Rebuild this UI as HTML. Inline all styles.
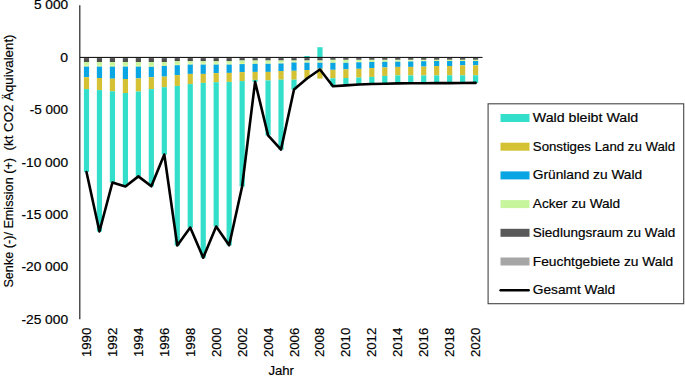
<!DOCTYPE html>
<html><head><meta charset="utf-8"><style>
html,body{margin:0;padding:0;background:#fff;}
svg{display:block;}
text{font-family:"Liberation Sans", sans-serif;font-size:12.6px;fill:#000;stroke:#000;stroke-width:0.18px;}
</style></head><body>
<svg width="685" height="376" viewBox="0 0 685 376">
<rect width="685" height="376" fill="#fff"/>
<rect x="83.89" y="58.1" width="5.2" height="3.9" fill="#4E4E4E"/>
<rect x="83.89" y="62" width="5.2" height="3.6" fill="#C6F59C"/>
<rect x="83.89" y="65.6" width="5.2" height="1" fill="#E0F58C"/>
<rect x="83.89" y="66.6" width="5.2" height="10.6" fill="#0AA6E4"/>
<rect x="83.89" y="77.2" width="5.2" height="11.9" fill="#D4C234"/>
<rect x="83.89" y="89.1" width="5.2" height="82.9" fill="#33DFCA"/>
<rect x="96.86" y="58.1" width="5.2" height="3.9" fill="#4E4E4E"/>
<rect x="96.86" y="62" width="5.2" height="3.6" fill="#C6F59C"/>
<rect x="96.86" y="65.6" width="5.2" height="1" fill="#E0F58C"/>
<rect x="96.86" y="66.6" width="5.2" height="11.4" fill="#0AA6E4"/>
<rect x="96.86" y="78" width="5.2" height="12.1" fill="#D4C234"/>
<rect x="96.86" y="90.1" width="5.2" height="141.4" fill="#33DFCA"/>
<rect x="109.83" y="58.1" width="5.2" height="3.9" fill="#4E4E4E"/>
<rect x="109.83" y="62" width="5.2" height="3.6" fill="#C6F59C"/>
<rect x="109.83" y="65.6" width="5.2" height="1" fill="#E0F58C"/>
<rect x="109.83" y="66.6" width="5.2" height="12.1" fill="#0AA6E4"/>
<rect x="109.83" y="78.7" width="5.2" height="12.6" fill="#D4C234"/>
<rect x="109.83" y="91.3" width="5.2" height="91.2" fill="#33DFCA"/>
<rect x="122.8" y="58.1" width="5.2" height="3.9" fill="#4E4E4E"/>
<rect x="122.8" y="62" width="5.2" height="3.6" fill="#C6F59C"/>
<rect x="122.8" y="65.6" width="5.2" height="1" fill="#E0F58C"/>
<rect x="122.8" y="66.6" width="5.2" height="12.4" fill="#0AA6E4"/>
<rect x="122.8" y="79" width="5.2" height="14" fill="#D4C234"/>
<rect x="122.8" y="93" width="5.2" height="93.5" fill="#33DFCA"/>
<rect x="135.77" y="58.1" width="5.2" height="3.9" fill="#4E4E4E"/>
<rect x="135.77" y="62" width="5.2" height="3.6" fill="#C6F59C"/>
<rect x="135.77" y="65.6" width="5.2" height="1" fill="#E0F58C"/>
<rect x="135.77" y="66.6" width="5.2" height="11.8" fill="#0AA6E4"/>
<rect x="135.77" y="78.4" width="5.2" height="13.1" fill="#D4C234"/>
<rect x="135.77" y="91.5" width="5.2" height="84.9" fill="#33DFCA"/>
<rect x="148.74" y="58.1" width="5.2" height="3.9" fill="#4E4E4E"/>
<rect x="148.74" y="62" width="5.2" height="3.8" fill="#C6F59C"/>
<rect x="148.74" y="65.8" width="5.2" height="1" fill="#E0F58C"/>
<rect x="148.74" y="66.8" width="5.2" height="10.4" fill="#0AA6E4"/>
<rect x="148.74" y="77.2" width="5.2" height="11.9" fill="#D4C234"/>
<rect x="148.74" y="89.1" width="5.2" height="97.2" fill="#33DFCA"/>
<rect x="161.71" y="58.1" width="5.2" height="3.9" fill="#4E4E4E"/>
<rect x="161.71" y="62" width="5.2" height="2.9" fill="#C6F59C"/>
<rect x="161.71" y="64.9" width="5.2" height="1" fill="#E0F58C"/>
<rect x="161.71" y="65.9" width="5.2" height="10.7" fill="#0AA6E4"/>
<rect x="161.71" y="76.6" width="5.2" height="10.6" fill="#D4C234"/>
<rect x="161.71" y="87.2" width="5.2" height="67.3" fill="#33DFCA"/>
<rect x="174.68" y="58.1" width="5.2" height="3.1" fill="#4E4E4E"/>
<rect x="174.68" y="61.2" width="5.2" height="3" fill="#C6F59C"/>
<rect x="174.68" y="64.2" width="5.2" height="1" fill="#E0F58C"/>
<rect x="174.68" y="65.2" width="5.2" height="9.9" fill="#0AA6E4"/>
<rect x="174.68" y="75.1" width="5.2" height="10.8" fill="#D4C234"/>
<rect x="174.68" y="85.9" width="5.2" height="159.6" fill="#33DFCA"/>
<rect x="187.65" y="58.1" width="5.2" height="3.1" fill="#4E4E4E"/>
<rect x="187.65" y="61.2" width="5.2" height="2.4" fill="#C6F59C"/>
<rect x="187.65" y="63.6" width="5.2" height="1" fill="#E0F58C"/>
<rect x="187.65" y="64.6" width="5.2" height="9.3" fill="#0AA6E4"/>
<rect x="187.65" y="73.9" width="5.2" height="10.2" fill="#D4C234"/>
<rect x="187.65" y="84.1" width="5.2" height="143.5" fill="#33DFCA"/>
<rect x="200.62" y="58.1" width="5.2" height="3.1" fill="#4E4E4E"/>
<rect x="200.62" y="61.2" width="5.2" height="2.4" fill="#C6F59C"/>
<rect x="200.62" y="63.6" width="5.2" height="1" fill="#E0F58C"/>
<rect x="200.62" y="64.6" width="5.2" height="9.3" fill="#0AA6E4"/>
<rect x="200.62" y="73.9" width="5.2" height="9" fill="#D4C234"/>
<rect x="200.62" y="82.9" width="5.2" height="174.8" fill="#33DFCA"/>
<rect x="213.59" y="58.1" width="5.2" height="3.1" fill="#4E4E4E"/>
<rect x="213.59" y="61.2" width="5.2" height="2.4" fill="#C6F59C"/>
<rect x="213.59" y="63.6" width="5.2" height="1" fill="#E0F58C"/>
<rect x="213.59" y="64.6" width="5.2" height="8.5" fill="#0AA6E4"/>
<rect x="213.59" y="73.1" width="5.2" height="9.1" fill="#D4C234"/>
<rect x="213.59" y="82.2" width="5.2" height="144.3" fill="#33DFCA"/>
<rect x="226.56" y="58.1" width="5.2" height="3.1" fill="#4E4E4E"/>
<rect x="226.56" y="61.2" width="5.2" height="2.4" fill="#C6F59C"/>
<rect x="226.56" y="63.6" width="5.2" height="1" fill="#E0F58C"/>
<rect x="226.56" y="64.6" width="5.2" height="8.3" fill="#0AA6E4"/>
<rect x="226.56" y="72.9" width="5.2" height="9" fill="#D4C234"/>
<rect x="226.56" y="81.9" width="5.2" height="163.4" fill="#33DFCA"/>
<rect x="239.53" y="58.1" width="5.2" height="2.4" fill="#4E4E4E"/>
<rect x="239.53" y="60.5" width="5.2" height="2.6" fill="#C6F59C"/>
<rect x="239.53" y="63.1" width="5.2" height="1" fill="#E0F58C"/>
<rect x="239.53" y="64.1" width="5.2" height="8" fill="#0AA6E4"/>
<rect x="239.53" y="72.1" width="5.2" height="9" fill="#D4C234"/>
<rect x="239.53" y="81.1" width="5.2" height="105.4" fill="#33DFCA"/>
<rect x="252.5" y="58.1" width="5.2" height="2.4" fill="#4E4E4E"/>
<rect x="252.5" y="60.5" width="5.2" height="2.3" fill="#C6F59C"/>
<rect x="252.5" y="62.8" width="5.2" height="1" fill="#E0F58C"/>
<rect x="252.5" y="63.8" width="5.2" height="8.1" fill="#0AA6E4"/>
<rect x="252.5" y="71.9" width="5.2" height="8" fill="#D4C234"/>
<rect x="252.5" y="79.9" width="5.2" height="1.9" fill="#33DFCA"/>
<rect x="265.46" y="58.1" width="5.2" height="2.4" fill="#4E4E4E"/>
<rect x="265.46" y="60.5" width="5.2" height="2.3" fill="#C6F59C"/>
<rect x="265.46" y="62.8" width="5.2" height="1" fill="#E0F58C"/>
<rect x="265.46" y="63.8" width="5.2" height="8.1" fill="#0AA6E4"/>
<rect x="265.46" y="71.9" width="5.2" height="8.5" fill="#D4C234"/>
<rect x="265.46" y="80.4" width="5.2" height="55" fill="#33DFCA"/>
<rect x="278.43" y="58.1" width="5.2" height="2.4" fill="#4E4E4E"/>
<rect x="278.43" y="60.5" width="5.2" height="2" fill="#C6F59C"/>
<rect x="278.43" y="62.5" width="5.2" height="1" fill="#E0F58C"/>
<rect x="278.43" y="63.5" width="5.2" height="7.5" fill="#0AA6E4"/>
<rect x="278.43" y="71" width="5.2" height="8.7" fill="#D4C234"/>
<rect x="278.43" y="79.7" width="5.2" height="69.9" fill="#33DFCA"/>
<rect x="291.4" y="58.1" width="5.2" height="2.4" fill="#4E4E4E"/>
<rect x="291.4" y="60.5" width="5.2" height="1" fill="#C6F59C"/>
<rect x="291.4" y="61.5" width="5.2" height="1" fill="#E0F58C"/>
<rect x="291.4" y="62.5" width="5.2" height="8.3" fill="#0AA6E4"/>
<rect x="291.4" y="70.8" width="5.2" height="8.9" fill="#D4C234"/>
<rect x="291.4" y="79.7" width="5.2" height="9.8" fill="#33DFCA"/>
<rect x="304.38" y="58.1" width="5.2" height="2.4" fill="#4E4E4E"/>
<rect x="304.38" y="60.5" width="5.2" height="1.2" fill="#C6F59C"/>
<rect x="304.38" y="61.7" width="5.2" height="1" fill="#E0F58C"/>
<rect x="304.38" y="62.7" width="5.2" height="7.3" fill="#0AA6E4"/>
<rect x="304.38" y="70" width="5.2" height="8.2" fill="#D4C234"/>
<rect x="304.38" y="78.2" width="5.2" height="0.3" fill="#33DFCA"/>
<rect x="304.38" y="56" width="5.2" height="1.4" fill="#33DFCA"/>
<rect x="317.35" y="58.1" width="5.2" height="2.4" fill="#4E4E4E"/>
<rect x="317.35" y="60.5" width="5.2" height="1.2" fill="#C6F59C"/>
<rect x="317.35" y="61.7" width="5.2" height="1" fill="#E0F58C"/>
<rect x="317.35" y="62.7" width="5.2" height="6" fill="#0AA6E4"/>
<rect x="317.35" y="68.7" width="5.2" height="9.9" fill="#D4C234"/>
<rect x="317.35" y="47.2" width="5.2" height="10.2" fill="#33DFCA"/>
<rect x="330.31" y="58.1" width="5.2" height="1.7" fill="#4E4E4E"/>
<rect x="330.31" y="59.8" width="5.2" height="2" fill="#C6F59C"/>
<rect x="330.31" y="61.8" width="5.2" height="1" fill="#E0F58C"/>
<rect x="330.31" y="62.8" width="5.2" height="7" fill="#0AA6E4"/>
<rect x="330.31" y="69.8" width="5.2" height="8.5" fill="#D4C234"/>
<rect x="330.31" y="78.3" width="5.2" height="8" fill="#33DFCA"/>
<rect x="343.28" y="58.1" width="5.2" height="1.7" fill="#4E4E4E"/>
<rect x="343.28" y="59.8" width="5.2" height="2" fill="#C6F59C"/>
<rect x="343.28" y="61.8" width="5.2" height="1" fill="#E0F58C"/>
<rect x="343.28" y="62.8" width="5.2" height="6.5" fill="#0AA6E4"/>
<rect x="343.28" y="69.3" width="5.2" height="8.7" fill="#D4C234"/>
<rect x="343.28" y="78" width="5.2" height="7.4" fill="#33DFCA"/>
<rect x="356.25" y="58.1" width="5.2" height="1.7" fill="#4E4E4E"/>
<rect x="356.25" y="59.8" width="5.2" height="1.5" fill="#C6F59C"/>
<rect x="356.25" y="61.3" width="5.2" height="1" fill="#E0F58C"/>
<rect x="356.25" y="62.3" width="5.2" height="6.5" fill="#0AA6E4"/>
<rect x="356.25" y="68.8" width="5.2" height="8.8" fill="#D4C234"/>
<rect x="356.25" y="77.6" width="5.2" height="6.9" fill="#33DFCA"/>
<rect x="369.22" y="58.1" width="5.2" height="1.7" fill="#4E4E4E"/>
<rect x="369.22" y="59.8" width="5.2" height="1.1" fill="#C6F59C"/>
<rect x="369.22" y="60.9" width="5.2" height="1" fill="#E0F58C"/>
<rect x="369.22" y="61.9" width="5.2" height="6.2" fill="#0AA6E4"/>
<rect x="369.22" y="68.1" width="5.2" height="8.8" fill="#D4C234"/>
<rect x="369.22" y="76.9" width="5.2" height="7.1" fill="#33DFCA"/>
<rect x="382.19" y="58.1" width="5.2" height="1.7" fill="#4E4E4E"/>
<rect x="382.19" y="59.8" width="5.2" height="1" fill="#C6F59C"/>
<rect x="382.19" y="60.8" width="5.2" height="1" fill="#E0F58C"/>
<rect x="382.19" y="61.8" width="5.2" height="5.6" fill="#0AA6E4"/>
<rect x="382.19" y="67.4" width="5.2" height="8.5" fill="#D4C234"/>
<rect x="382.19" y="75.9" width="5.2" height="7.8" fill="#33DFCA"/>
<rect x="395.17" y="58.1" width="5.2" height="1.7" fill="#4E4E4E"/>
<rect x="395.17" y="59.8" width="5.2" height="0.9" fill="#C6F59C"/>
<rect x="395.17" y="60.7" width="5.2" height="1" fill="#E0F58C"/>
<rect x="395.17" y="61.7" width="5.2" height="5.2" fill="#0AA6E4"/>
<rect x="395.17" y="66.9" width="5.2" height="8.5" fill="#D4C234"/>
<rect x="395.17" y="75.4" width="5.2" height="8" fill="#33DFCA"/>
<rect x="408.13" y="58.1" width="5.2" height="1.7" fill="#4E4E4E"/>
<rect x="408.13" y="59.8" width="5.2" height="0.7" fill="#C6F59C"/>
<rect x="408.13" y="60.5" width="5.2" height="1" fill="#E0F58C"/>
<rect x="408.13" y="61.5" width="5.2" height="5.4" fill="#0AA6E4"/>
<rect x="408.13" y="66.9" width="5.2" height="8.5" fill="#D4C234"/>
<rect x="408.13" y="75.4" width="5.2" height="7.9" fill="#33DFCA"/>
<rect x="421.11" y="58.1" width="5.2" height="1.7" fill="#4E4E4E"/>
<rect x="421.11" y="59.8" width="5.2" height="0.4" fill="#C6F59C"/>
<rect x="421.11" y="60.2" width="5.2" height="1" fill="#E0F58C"/>
<rect x="421.11" y="61.2" width="5.2" height="5.4" fill="#0AA6E4"/>
<rect x="421.11" y="66.6" width="5.2" height="8.9" fill="#D4C234"/>
<rect x="421.11" y="75.5" width="5.2" height="7.7" fill="#33DFCA"/>
<rect x="434.07" y="58.1" width="5.2" height="1.7" fill="#4E4E4E"/>
<rect x="434.07" y="59.8" width="5.2" height="0.2" fill="#C6F59C"/>
<rect x="434.07" y="60" width="5.2" height="1" fill="#E0F58C"/>
<rect x="434.07" y="61" width="5.2" height="5" fill="#0AA6E4"/>
<rect x="434.07" y="66" width="5.2" height="9.4" fill="#D4C234"/>
<rect x="434.07" y="75.4" width="5.2" height="7.7" fill="#33DFCA"/>
<rect x="447.05" y="58.1" width="5.2" height="1.7" fill="#4E4E4E"/>
<rect x="447.05" y="59.8" width="5.2" height="0.2" fill="#C6F59C"/>
<rect x="447.05" y="60" width="5.2" height="1" fill="#E0F58C"/>
<rect x="447.05" y="61" width="5.2" height="5" fill="#0AA6E4"/>
<rect x="447.05" y="66" width="5.2" height="9.3" fill="#D4C234"/>
<rect x="447.05" y="75.3" width="5.2" height="7.8" fill="#33DFCA"/>
<rect x="460.01" y="58.1" width="5.2" height="1.7" fill="#4E4E4E"/>
<rect x="460.01" y="59.8" width="5.2" height="0.2" fill="#C6F59C"/>
<rect x="460.01" y="60" width="5.2" height="1" fill="#E0F58C"/>
<rect x="460.01" y="61" width="5.2" height="4.3" fill="#0AA6E4"/>
<rect x="460.01" y="65.3" width="5.2" height="10" fill="#D4C234"/>
<rect x="460.01" y="75.3" width="5.2" height="7.7" fill="#33DFCA"/>
<rect x="472.99" y="58.1" width="5.2" height="1.7" fill="#4E4E4E"/>
<rect x="472.99" y="59.8" width="5.2" height="0.2" fill="#C6F59C"/>
<rect x="472.99" y="60" width="5.2" height="1" fill="#E0F58C"/>
<rect x="472.99" y="61" width="5.2" height="4.3" fill="#0AA6E4"/>
<rect x="472.99" y="65.3" width="5.2" height="10" fill="#D4C234"/>
<rect x="472.99" y="75.3" width="5.2" height="7.6" fill="#33DFCA"/>
<line x1="79.75" y1="5.3" x2="79.75" y2="319.3" stroke="#4F4F4F" stroke-width="1.5"/>
<line x1="80" y1="57.4" x2="482.5" y2="57.4" stroke="#000" stroke-width="1.0"/>
<polyline points="86.48,172 99.45,231.5 112.43,182.5 125.4,186.5 138.37,176.4 151.34,186.3 164.31,154.5 177.28,245.5 190.25,227.6 203.22,257.7 216.19,226.5 229.16,245.3 242.12,186.5 255.09,81.8 268.06,135.4 281.03,149.6 294,89.5 306.98,78.5 319.95,69.5 332.92,86.3 345.88,85.4 358.86,84.5 371.82,84 384.8,83.7 397.77,83.4 410.74,83.3 423.71,83.2 436.68,83.1 449.65,83.1 462.62,83 475.59,82.9" fill="none" stroke="#000" stroke-width="2.6" stroke-linejoin="round" stroke-linecap="round"/>
<text x="68.1" y="9.3" text-anchor="end" textLength="34.2" lengthAdjust="spacingAndGlyphs">5 000</text>
<text x="68.1" y="62.05" text-anchor="end" textLength="7.8" lengthAdjust="spacingAndGlyphs">0</text>
<text x="68.1" y="114.38" text-anchor="end" textLength="38.3" lengthAdjust="spacingAndGlyphs">-5 000</text>
<text x="68.1" y="166.71" text-anchor="end" textLength="46.7" lengthAdjust="spacingAndGlyphs">-10 000</text>
<text x="68.1" y="219.04" text-anchor="end" textLength="46.7" lengthAdjust="spacingAndGlyphs">-15 000</text>
<text x="68.1" y="271.37" text-anchor="end" textLength="46.7" lengthAdjust="spacingAndGlyphs">-20 000</text>
<text x="68.1" y="323.7" text-anchor="end" textLength="46.7" lengthAdjust="spacingAndGlyphs">-25 000</text>
<text transform="translate(90.98,357.1) rotate(-90)" textLength="29.4" lengthAdjust="spacingAndGlyphs">1990</text>
<text transform="translate(116.93,357.1) rotate(-90)" textLength="29.4" lengthAdjust="spacingAndGlyphs">1992</text>
<text transform="translate(142.87,357.1) rotate(-90)" textLength="29.4" lengthAdjust="spacingAndGlyphs">1994</text>
<text transform="translate(168.81,357.1) rotate(-90)" textLength="29.4" lengthAdjust="spacingAndGlyphs">1996</text>
<text transform="translate(194.75,357.1) rotate(-90)" textLength="29.4" lengthAdjust="spacingAndGlyphs">1998</text>
<text transform="translate(220.69,357.1) rotate(-90)" textLength="29.4" lengthAdjust="spacingAndGlyphs">2000</text>
<text transform="translate(246.62,357.1) rotate(-90)" textLength="29.4" lengthAdjust="spacingAndGlyphs">2002</text>
<text transform="translate(272.56,357.1) rotate(-90)" textLength="29.4" lengthAdjust="spacingAndGlyphs">2004</text>
<text transform="translate(298.5,357.1) rotate(-90)" textLength="29.4" lengthAdjust="spacingAndGlyphs">2006</text>
<text transform="translate(324.45,357.1) rotate(-90)" textLength="29.4" lengthAdjust="spacingAndGlyphs">2008</text>
<text transform="translate(350.38,357.1) rotate(-90)" textLength="29.4" lengthAdjust="spacingAndGlyphs">2010</text>
<text transform="translate(376.32,357.1) rotate(-90)" textLength="29.4" lengthAdjust="spacingAndGlyphs">2012</text>
<text transform="translate(402.27,357.1) rotate(-90)" textLength="29.4" lengthAdjust="spacingAndGlyphs">2014</text>
<text transform="translate(428.21,357.1) rotate(-90)" textLength="29.4" lengthAdjust="spacingAndGlyphs">2016</text>
<text transform="translate(454.15,357.1) rotate(-90)" textLength="29.4" lengthAdjust="spacingAndGlyphs">2018</text>
<text transform="translate(480.09,357.1) rotate(-90)" textLength="29.4" lengthAdjust="spacingAndGlyphs">2020</text>
<text x="281.2" y="375.4" text-anchor="middle" textLength="25.6" lengthAdjust="spacingAndGlyphs">Jahr</text>
<text transform="translate(12.9,287.6) rotate(-90)" style="font-size:13.4px" textLength="129.6" lengthAdjust="spacingAndGlyphs">Senke (-)/ Emission (+)</text>
<text transform="translate(12.9,150.4) rotate(-90)" style="font-size:13.4px" textLength="115.9" lengthAdjust="spacingAndGlyphs">(kt CO2 Äquivalent)</text>
<rect x="488.1" y="103.8" width="195.6" height="199.9" fill="none" stroke="#454545" stroke-width="1.1"/>
<rect x="500.5" y="114" width="29" height="8" fill="#33DFCA"/>
<text x="532.8" y="122" textLength="105.4" lengthAdjust="spacingAndGlyphs">Wald bleibt Wald</text>
<rect x="500.5" y="142.7" width="29" height="8" fill="#D4C234"/>
<text x="532.8" y="150.7" textLength="142.4" lengthAdjust="spacingAndGlyphs">Sonstiges Land zu Wald</text>
<rect x="500.5" y="171.4" width="29" height="8" fill="#0AA6E4"/>
<text x="532.8" y="179.4" textLength="109.4" lengthAdjust="spacingAndGlyphs">Grünland zu Wald</text>
<rect x="500.5" y="200.1" width="29" height="8" fill="#C6F59C"/>
<text x="532.8" y="208.1" textLength="87.4" lengthAdjust="spacingAndGlyphs">Acker zu Wald</text>
<rect x="500.5" y="228.8" width="29" height="8" fill="#595959"/>
<text x="532.8" y="236.8" textLength="142.4" lengthAdjust="spacingAndGlyphs">Siedlungsraum zu Wald</text>
<rect x="500.5" y="257.5" width="29" height="8" fill="#A6A6A6"/>
<text x="532.8" y="265.5" textLength="140.4" lengthAdjust="spacingAndGlyphs">Feuchtgebiete zu Wald</text>
<line x1="500.6" y1="290.2" x2="528.7" y2="290.2" stroke="#000" stroke-width="2.4" stroke-linecap="round"/>
<text x="532.8" y="294.2" textLength="82.4" lengthAdjust="spacingAndGlyphs">Gesamt Wald</text>
</svg>
</body></html>
